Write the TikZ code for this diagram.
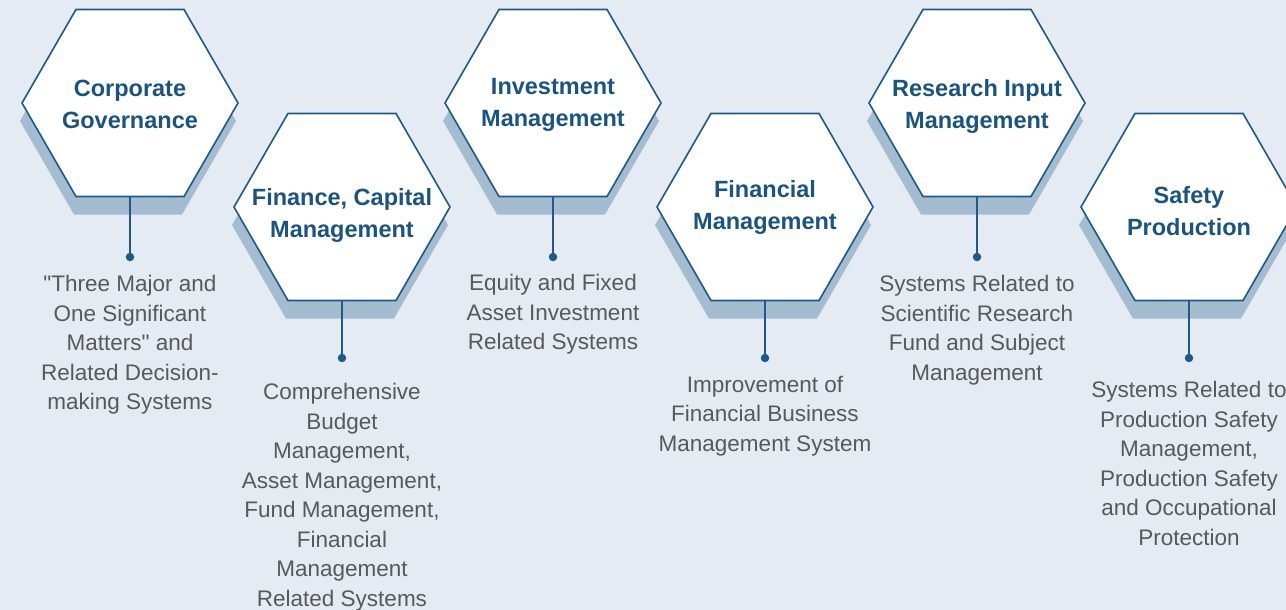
\documentclass[tikz,border=0pt]{standalone}
\usepackage{fontspec}
\setmainfont{Liberation Sans}
\usetikzlibrary{shapes.geometric,shadows}
\definecolor{bgc}{HTML}{E4EBF2}
\definecolor{edgec}{HTML}{1D5A88}
\definecolor{titlec}{HTML}{1A5482}
\definecolor{shadowc}{HTML}{A3BCCF}
\definecolor{descc}{HTML}{595959}
\newcommand\straightdq{\XeTeXglyph\XeTeXcharglyph"22\relax}
\begin{document}
\begin{tikzpicture}[x=1pt,y=-1pt,
  hex/.style={regular polygon, regular polygon sides=6, minimum size=216pt, inner sep=0pt,
    draw=edgec, line width=1.6pt, fill=white,
    drop shadow={shadow xshift=-2pt, shadow yshift=-18pt, fill=shadowc, opacity=1, draw=none}},
  title/.style={font=\bfseries\fontsize{23.5}{32}\selectfont, text=titlec, align=center, inner sep=0pt},
  desc/.style={font=\fontsize{22.5}{29.5}\selectfont, text=descc, align=center, inner sep=0pt, anchor=north},
  dot/.style={circle, fill=edgec, inner sep=0pt, minimum size=8.5pt},
  conn/.style={draw=edgec, line width=1.9pt}]
\fill[bgc] (0,0) rectangle (1286,610);
\useasboundingbox (0,0) rectangle (1286,610);

\node[hex] (h1) at (130,103) {};
\node[hex] (h2) at (342,207) {};
\node[hex] (h3) at (553,103) {};
\node[hex] (h4) at (765,207) {};
\node[hex] (h5) at (977,103) {};
\node[hex] (h6) at (1189,207) {};

\node[title] (t1) at (130,104) {Corporate\\Governance};
\node[title] (t2) at (342,215) {Finance, Capital\\Management};
\node[title] (t3) at (553,105) {Investment\\Management};
\node[title] (t4) at (765,207) {Financial\\Management};
\node[title] (t5) at (977,106) {Research Input\\Management};
\node[title] (t6) at (1189,211) {Safety\\Production};

\node[dot] (d1) at (130,257) {};
\node[dot] (d2) at (342,358) {};
\node[dot] (d3) at (553,257) {};
\node[dot] (d4) at (765,358) {};
\node[dot] (d5) at (977,257) {};
\node[dot] (d6) at (1189,358) {};

\foreach \i in {1,...,6} {\draw[conn] (h\i.south) -- (d\i.center);}

\node[desc] (s1) at (130,275) {\straightdq Three Major and\\One Significant\\Matters\straightdq{} and\\Related Decision-\\making Systems};
\node[desc] (s2) at (342,383) {Comprehensive\\Budget\\Management,\\Asset Management,\\Fund Management,\\Financial\\Management\\Related Systems};
\node[desc] (s3) at (553,274) {Equity and Fixed\\Asset Investment\\Related Systems};
\node[desc] (s4) at (765,376) {Improvement of\\Financial Business\\Management System};
\node[desc] (s5) at (977,275) {Systems Related to\\Scientific Research\\Fund and Subject\\Management};
\node[desc] (s6) at (1189,381) {Systems Related to\\Production Safety\\Management,\\Production Safety\\and Occupational\\Protection};
\end{tikzpicture}
\end{document}
